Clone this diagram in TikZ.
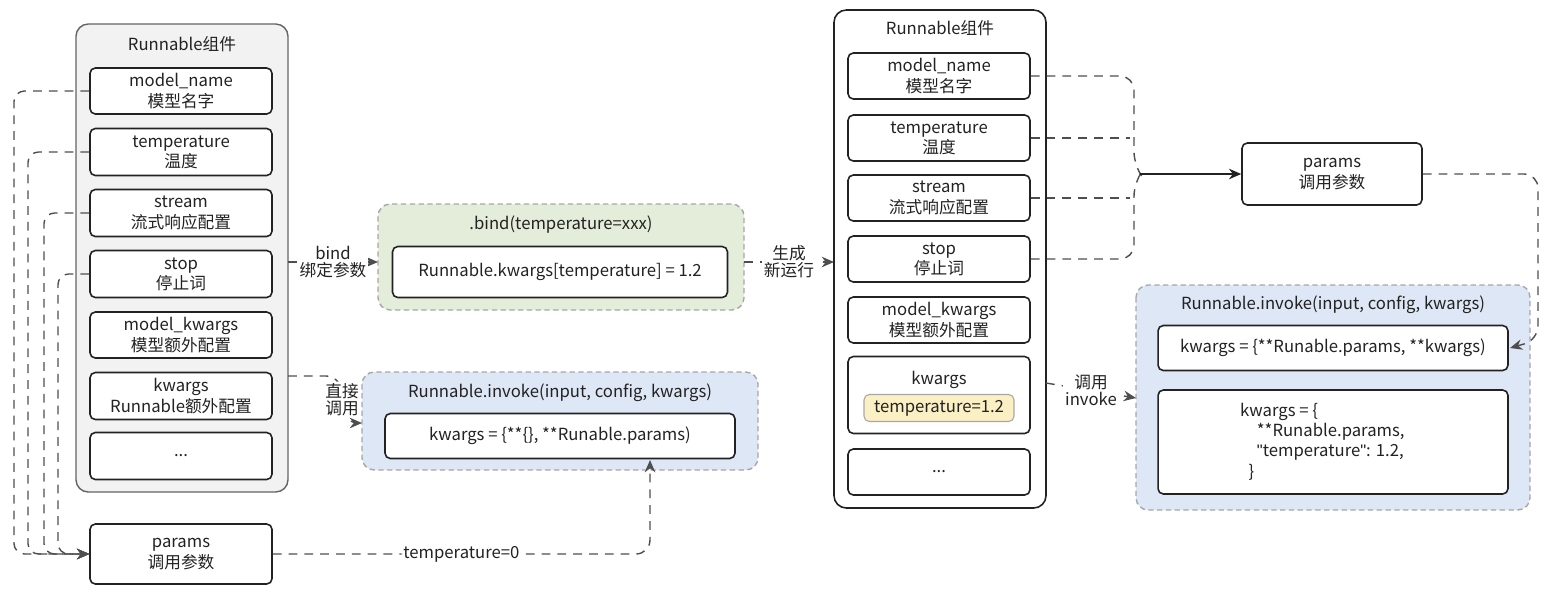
\documentclass[tikz,border=0pt]{standalone}
\usepackage{fontspec}
\setmainfont{Noto Sans CJK SC}
\newfontfamily\latin{Liberation Sans}
\usetikzlibrary{arrows.meta}
\definecolor{ink}{HTML}{222222}
\definecolor{greenbg}{HTML}{E3EDD9}
\definecolor{bluebg}{HTML}{DDE7F5}
\definecolor{yellowbg}{HTML}{FBEFC4}
\tikzstyle{item} = [draw=ink, fill=white, rounded corners=3pt, line width=0.9pt, minimum width=3.64cm, align=center, inner sep=0pt]
\tikzstyle{group} = [rounded corners=7pt, line width=0.8pt]
\tikzstyle{link} = [draw=ink!80, dashed, dash pattern=on 5pt off 4pt, line width=0.8pt]
\tikzstyle{tip} = [-{Stealth[length=7pt,width=6pt]}]
\tikzstyle{tag} = [fill=white, inner sep=1pt, align=center]

\begin{document}
\begin{tikzpicture}[
  x=0.02cm, y=-0.02cm,
  every node/.style={text=ink, font=\fontsize{9.5}{11.5}\selectfont},
]
\useasboundingbox (0,0) rectangle (1548,606);
% left component
\draw[group, draw=ink!70, fill=black!5] (76,24) rectangle (288,492);
\node (ltitle) at (182,44) {Runnable组件};
\node[item, minimum height=0.92cm] (lname) at (181,91) {model\_name\\模型名字};
\node[item, minimum height=0.94cm] (ltemp) at (181,152) {temperature\\温度};
\node[item, minimum height=0.94cm] (lstream) at (181,213) {stream\\流式响应配置};
\node[item, minimum height=0.94cm] (lstop) at (181,274) {stop\\停止词};
\node[item, minimum height=0.92cm] (lmk) at (181,335) {model\_kwargs\\模型额外配置};
\node[item, minimum height=0.94cm] (lkw) at (181,396) {kwargs\\Runnable额外配置};
\node[item, minimum height=0.94cm] (ldots) at (181,456) {...};
\node[item, minimum height=1.2cm] (lparams) at (181,554) {params\\调用参数};
\draw[link, tip, rounded corners=6pt] (lname.west) -- (14,91) |- (lparams.west);
\draw[link, tip, rounded corners=6pt] (ltemp.west) -- (28,152) |- (lparams.west);
\draw[link, tip, rounded corners=6pt] (lstream.west) -- (44,213) |- (lparams.west);
\draw[link, tip, rounded corners=6pt] (lstop.west) -- (58,274) |- (lparams.west);
% bind box
\draw[group, draw=ink!40, densely dashed, fill=greenbg] (378,204) rectangle (744,310);
\node (btitle) at (561,225) {.bind(temperature=xxx)};
\node[item, minimum width=6.7cm, minimum height=1.02cm] (bkw) at (560,272) {Runnable.kwargs[temperature] = 1.2};
\coordinate (bin) at (378,262);
\draw[link, tip] (288,262) -- node[tag] (lbind) {bind\\[-2pt]绑定参数} (bin);
% direct invoke box
\draw[group, draw=ink!40, densely dashed, fill=bluebg] (362,372) rectangle (758,470);
\node (ititle) at (560,393) {Runnable.invoke(input, config, kwargs)};
\node[item, minimum width=7cm, minimum height=0.9cm] (ikw) at (560,436) {kwargs = \{**\{\}, **Runable.params)};
\coordinate (iin) at (362,423);
\coordinate (iup) at (650,460);
\draw[link, tip, rounded corners=8pt] (288,376) -- (340,376) -- node[tag] (ldirect) {直接\\[-2pt]调用} (344,423) -- (iin);
\draw[link, tip, rounded corners=8pt] (lparams.east) -- node[tag] (ltemp0) {temperature=0} (650,554) -- (iup);
% new runnable
\coordinate (rin) at (834,262);
\draw[link, tip] (744,262) -- node[tag] (lgen) {生成\\[-2pt]新运行} (rin);
\draw[group, draw=ink, line width=0.9pt, fill=white] (834,10) rectangle (1046,508);
\node (rtitle) at (940,28) {Runnable组件};
\node[item, minimum height=0.92cm] (rname) at (939,76) {model\_name\\模型名字};
\node[item, minimum height=0.92cm] (rtemp) at (939,138) {temperature\\温度};
\node[item, minimum height=0.92cm] (rstream) at (939,198) {stream\\流式响应配置};
\node[item, minimum height=0.92cm] (rstop) at (939,259) {stop\\停止词};
\node[item, minimum height=0.92cm] (rmk) at (939,320) {model\_kwargs\\模型额外配置};
\node[item, minimum height=1.54cm] (rkw) at (939,395) {};
\node (rkwlabel) at (939,380) {kwargs};
\node[item, draw=ink!40, line width=0.6pt, fill=yellowbg, minimum width=3cm, minimum height=0.54cm] (rtemp12) at (939,408) {temperature=1.2};
\node[item, minimum height=0.92cm] (rdots) at (939,472) {...};
% params on the right
\node[item, minimum width=3.6cm, minimum height=1.24cm] (rparams) at (1332,174) {params\\调用参数};
\coordinate (brace) at (1140,174);
\draw[link, rounded corners=8pt] (rname.east) -- (1134,76) -- (1134,166) -- (brace);
\draw[link, rounded corners=8pt] (rstop.east) -- (1134,259) -- (1134,182) -- (brace);
\draw[link] (rtemp.east) -- (1130,138);
\draw[link] (rstream.east) -- (1130,198);
\draw[draw=ink, line width=0.9pt, tip] (brace) -- (rparams.west);
% invoke box on the right
\draw[group, draw=ink!40, densely dashed, fill=bluebg] (1136,285) rectangle (1530,510);
\node (r2title) at (1333,305) {Runnable.invoke(input, config, kwargs)};
\node[item, minimum width=7cm, minimum height=0.9cm] (r2kw) at (1333,348) {kwargs = \{**Runable.params, **kwargs)};
\node[item, minimum width=7cm, minimum height=2.08cm] (r2merge) at (1333,442) {};
\node[align=left, anchor=north west] (r2text) at (1234,397) {kwargs = \{\\\hspace{1em}**Runable.params,\\\hspace{1em}{\latin"}temperature{\latin"}: 1.2,\\\hspace{0.5em}\}};
\coordinate (r2in) at (1510,348);
\draw[link, tip, rounded corners=8pt] (rparams.east) -- (1538,174) -- (1538,340) -- (r2in);
\coordinate (r2left) at (1136,398);
\draw[link, tip] (1046,383) -- node[tag] (linvoke) {调用\\[-2pt]invoke} (r2left);
\end{tikzpicture}
\end{document}
